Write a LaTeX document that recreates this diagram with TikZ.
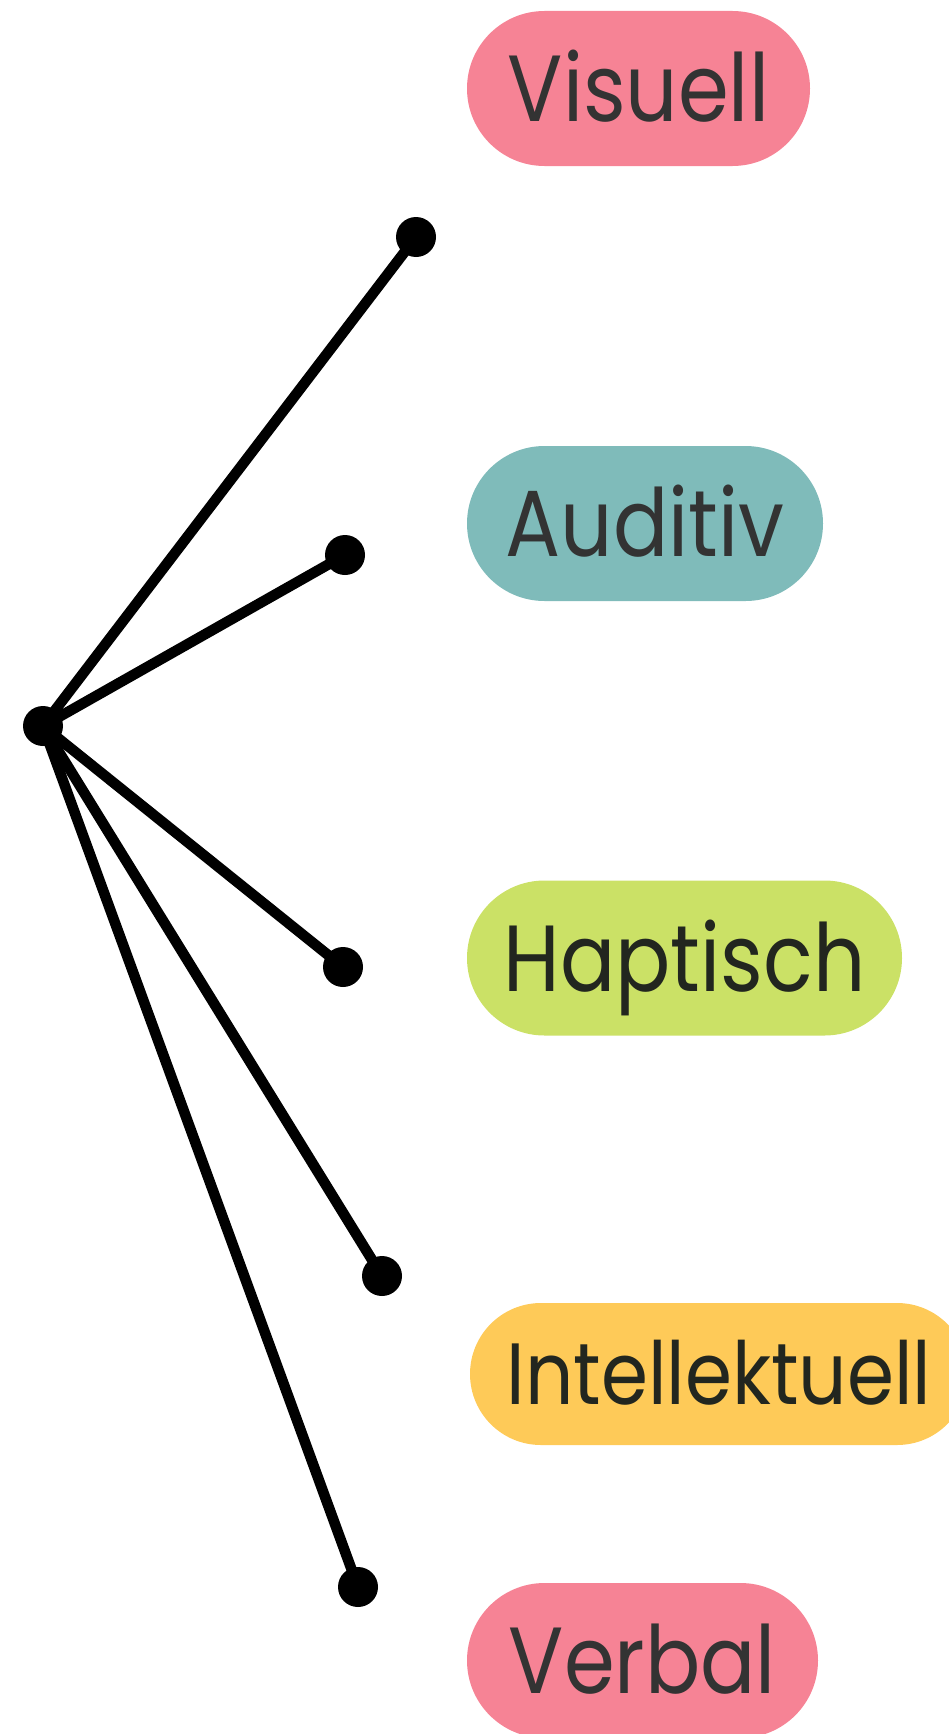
\documentclass[tikz,border=0pt]{standalone}
\usepackage{fontspec}
\setmainfont{Poppins}[FakeStretch=0.87]
\definecolor{pillpink}{HTML}{F68395}
\definecolor{pillteal}{HTML}{7FBBBA}
\definecolor{pillgreen}{HTML}{CBE166}
\definecolor{pillyellow}{HTML}{FECA58}
\definecolor{inkgray}{HTML}{333333}
\definecolor{inkdark}{HTML}{22261F}
\begin{document}
\begin{tikzpicture}[x=1pt,y=-1pt,
  dot/.style={circle,fill=black,minimum size=40pt,inner sep=0pt},
  spoke/.style={line width=10.5pt,black},
  pill/.style={rounded corners=77.5pt,minimum height=155pt,inner sep=0pt,
    text height=66pt,text depth=0pt,text=inkgray,
    font=\fontsize{94}{94}\selectfont}]
\useasboundingbox (0,0) rectangle (949,1734);
\clip (0,0) rectangle (949,1734);

% hub and end points
\node[dot] (c) at (43,726) {};
\node[dot] (d1) at (416,237) {};
\node[dot] (d2) at (345,555) {};
\node[dot] (d3) at (343,967) {};
\node[dot] (d4) at (382,1276) {};
\node[dot] (d5) at (358,1587) {};

% spokes
\foreach \k in {1,...,5}
  \draw[spoke] (c.center) -- (d\k.center);

% labels
\node[pill,fill=pillpink,minimum width=343pt] (vis) at (638.5,88.5) {Visuell};
\node[pill,fill=pillteal,minimum width=356pt] (aud) at (645,523.5) {Auditiv};
\node[pill,fill=pillgreen,minimum width=435pt,text=inkdark] (hap) at (684.5,958) {Haptisch};
\node[pill,fill=pillyellow,minimum width=498pt,minimum height=142pt,rounded corners=71pt,
  text height=61pt,text=inkdark,font=\fontsize{87}{87}\selectfont] (int) at (719,1374) {Intellektuell};
\node[pill,fill=pillpink,minimum width=351pt] (ver) at (642.5,1660.5) {Verbal};
\end{tikzpicture}
\end{document}
